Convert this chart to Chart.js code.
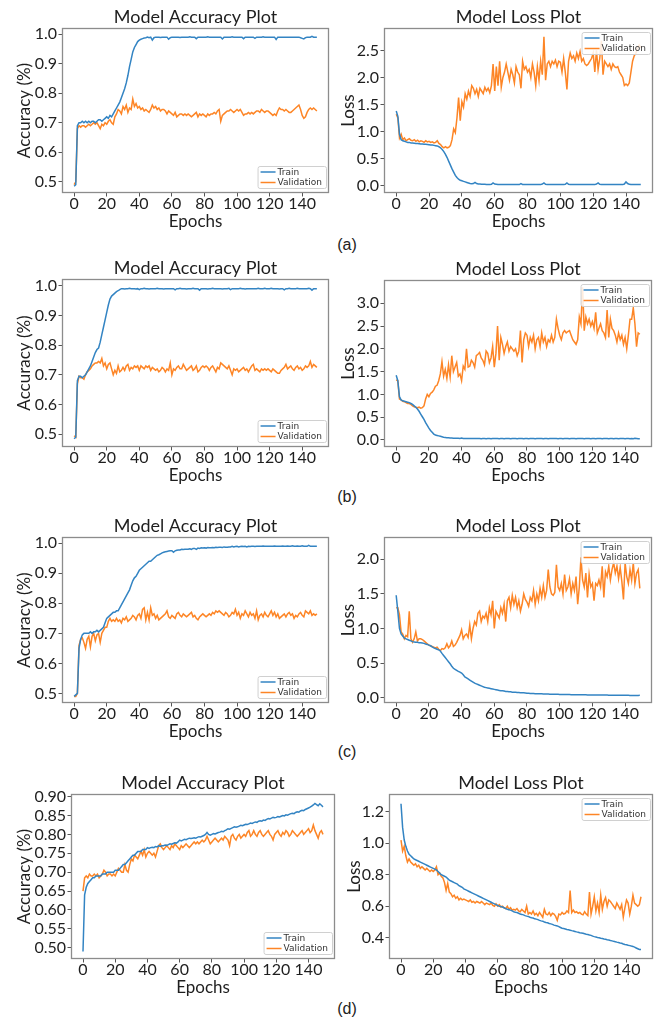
<!DOCTYPE html>
<html><head><meta charset="utf-8">
<script src="https://cdn.jsdelivr.net/npm/chart.js@4.4.1/dist/chart.umd.min.js"></script>
<style>
html,body{margin:0;padding:0;background:#fff}
body{width:657px;height:1020px;position:relative;overflow:hidden}
canvas{position:absolute}
.cap{position:absolute;width:40px;text-align:center;font:16px "Liberation Sans",Arial,sans-serif;color:#222;line-height:18px}
</style></head><body>
<div class="cap" style="left:327px;top:236px">(a)</div>
<div class="cap" style="left:327px;top:488px">(b)</div>
<div class="cap" style="left:327px;top:743px">(c)</div>
<div class="cap" style="left:327px;top:1000px">(d)</div>
<script>
// ---------- categories ----------
const epochs = Array.from({length:150},(_,i)=>i);
const xTickVals = [0,20,40,60,80,100,120,140];
const seriesNames = ['Train','Validation'];

// ---------- (a) ----------
const accTrainA = [
.485,.49,.69,.70,.70,.705,.70,.705,.70,.705,
.70,.705,.705,.70,.705,.71,.71,.705,.71,.715,
.72,.715,.725,.72,.73,.74,.75,.76,.77,.785,
.80,.815,.835,.86,.89,.915,.94,.955,.965,.975,
.98,.983,.985,.987,.988,.99,.988,.99,.98,.988,
.99,.99,.99,.989,.99,.99,.99,.99,.983,.988,
.99,.99,.99,.99,.99,.989,.99,.99,.99,.99,
.99,.991,.99,.99,.99,.985,.99,.99,.99,.99,
.99,.99,.991,.99,.99,.99,.99,.99,.99,.99,
.99,.984,.99,.99,.99,.99,.99,.991,.99,.99,
.99,.99,.99,.99,.985,.99,.99,.99,.99,.99,
.99,.986,.99,.99,.99,.99,.991,.99,.99,.99,
.99,.99,.99,.99,.982,.99,.99,.99,.99,.99,
.99,.99,.99,.99,.99,.99,.99,.99,.99,.988,
.986,.984,.988,.99,.99,.99,.993,.99,.99,.99];
const accValA = [
.49,.50,.68,.69,.685,.69,.69,.685,.69,.695,
.69,.695,.70,.695,.70,.69,.68,.695,.69,.70,
.695,.705,.71,.70,.695,.72,.73,.745,.74,.73,
.755,.745,.76,.735,.75,.745,.78,.755,.765,.75,
.755,.745,.75,.74,.745,.74,.735,.745,.76,.75,
.755,.745,.75,.74,.745,.745,.74,.73,.74,.735,
.73,.725,.735,.72,.725,.73,.73,.725,.73,.725,
.73,.725,.72,.725,.73,.735,.72,.73,.725,.73,
.725,.72,.73,.725,.73,.73,.735,.73,.74,.745,
.705,.725,.73,.735,.74,.74,.745,.74,.735,.74,
.745,.74,.745,.735,.725,.73,.73,.735,.73,.735,
.73,.735,.74,.74,.735,.745,.74,.735,.74,.74,
.735,.73,.725,.73,.725,.74,.75,.745,.745,.74,
.745,.74,.735,.735,.74,.745,.75,.755,.76,.745,
.725,.715,.72,.735,.745,.75,.745,.75,.745,.74];
const lossTrainA = [
1.38,1.28,.95,.85,.83,.82,.81,.80,.80,.79,
.79,.785,.78,.78,.775,.77,.77,.765,.765,.76,
.755,.75,.75,.745,.74,.735,.72,.70,.67,.63,
.58,.52,.45,.38,.31,.25,.19,.15,.12,.10,
.09,.08,.07,.06,.05,.04,.035,.04,.06,.04,
.03,.03,.025,.025,.025,.02,.02,.02,.025,.05,
.03,.025,.02,.02,.02,.02,.02,.02,.02,.02,
.02,.02,.02,.02,.02,.02,.04,.02,.02,.02,
.02,.02,.02,.02,.02,.02,.02,.02,.02,.03,
.05,.025,.02,.02,.02,.02,.02,.02,.02,.02,
.02,.02,.02,.025,.05,.025,.02,.02,.02,.02,
.02,.02,.02,.02,.02,.02,.02,.02,.02,.02,
.02,.02,.03,.05,.025,.02,.02,.02,.02,.02,
.02,.02,.02,.02,.02,.02,.02,.02,.02,.03,
.07,.04,.025,.02,.02,.02,.02,.02,.02,.02];
const lossValA = [
1.32,1.25,.88,.95,.85,.88,.83,.85,.87,.84,
.83,.85,.82,.84,.81,.83,.82,.80,.83,.81,
.82,.80,.81,.79,.80,.83,.78,.76,.72,.70,
.72,.70,.71,.74,.85,1.05,.98,1.25,1.63,1.20,
1.55,1.45,1.70,1.60,1.75,1.65,1.85,1.80,1.70,1.78,
1.65,1.80,1.75,1.70,1.82,1.75,1.80,1.72,1.85,2.25,
1.75,2.20,1.85,2.30,1.82,2.00,2.10,2.25,2.10,1.95,
2.15,2.05,1.90,2.20,2.10,2.05,1.80,2.30,2.15,2.20,
2.10,2.15,2.00,2.25,2.10,1.85,2.20,1.95,2.30,2.05,
2.75,1.95,2.25,2.30,2.20,2.30,2.25,2.32,2.20,2.30,
2.28,2.10,2.35,2.10,1.78,2.30,2.45,2.35,2.40,2.30,
2.45,2.35,2.48,2.30,2.35,2.25,2.22,2.25,2.30,2.35,
2.45,2.10,2.50,2.15,2.35,2.68,2.05,2.30,2.25,2.20,
2.25,2.15,2.25,2.20,2.18,2.20,2.10,2.05,2.00,1.85,
1.88,1.85,1.90,2.10,2.30,2.40,2.45,2.55,2.60,2.55];

// ---------- (b) ----------
const accTrainB = [
.485,.49,.68,.695,.695,.69,.695,.70,.71,.72,
.73,.745,.76,.775,.785,.79,.81,.835,.86,.885,
.91,.935,.955,.965,.97,.975,.98,.983,.987,.99,
.99,.989,.99,.99,.991,.99,.99,.99,.989,.99,
.987,.99,.99,.991,.99,.99,.989,.99,.99,.99,
.99,.991,.99,.99,.99,.989,.99,.99,.99,.99,
.99,.99,.986,.99,.99,.991,.99,.99,.99,.989,
.99,.99,.99,.991,.99,.99,.99,.985,.99,.99,
.99,.99,.989,.99,.99,.991,.99,.99,.99,.99,
.99,.989,.99,.99,.99,.991,.987,.99,.99,.99,
.99,.99,.991,.99,.99,.989,.99,.99,.99,.99,
.99,.99,.99,.991,.99,.99,.99,.991,.99,.99,
.99,.991,.99,.99,.99,.99,.989,.99,.99,.986,
.99,.99,.991,.99,.99,.99,.99,.991,.99,.99,
.99,.99,.99,.99,.991,.99,.985,.99,.99,.99];
const accValB = [
.495,.49,.67,.695,.69,.69,.685,.70,.71,.715,
.72,.73,.735,.74,.74,.745,.74,.755,.73,.74,
.72,.735,.74,.72,.70,.715,.705,.73,.71,.715,
.725,.715,.73,.735,.715,.725,.72,.73,.725,.73,
.715,.73,.725,.72,.73,.725,.73,.715,.725,.72,
.715,.72,.71,.715,.725,.72,.71,.72,.715,.74,
.70,.72,.715,.725,.73,.72,.72,.735,.725,.715,
.72,.725,.73,.715,.72,.73,.71,.715,.725,.73,
.725,.73,.725,.715,.725,.73,.72,.71,.725,.72,
.74,.735,.73,.725,.72,.73,.715,.70,.72,.715,
.72,.71,.715,.72,.725,.715,.72,.71,.72,.73,
.735,.715,.72,.715,.71,.72,.715,.72,.715,.72,
.715,.71,.72,.715,.71,.705,.705,.715,.72,.725,
.735,.72,.725,.73,.72,.715,.725,.73,.72,.725,
.715,.72,.73,.725,.73,.745,.725,.735,.73,.725];
const lossTrainB = [
1.42,1.30,.95,.88,.86,.85,.84,.83,.82,.80,
.78,.75,.72,.68,.63,.57,.51,.45,.38,.32,
.26,.21,.17,.13,.11,.10,.09,.08,.07,.06,
.055,.05,.05,.045,.045,.04,.04,.04,.04,.035,
.045,.035,.035,.03,.03,.03,.03,.03,.03,.03,
.03,.03,.025,.03,.03,.025,.03,.03,.025,.03,
.035,.03,.03,.025,.03,.03,.025,.03,.03,.03,
.025,.03,.03,.03,.025,.03,.035,.03,.025,.03,
.03,.025,.03,.03,.03,.025,.03,.03,.035,.03,
.025,.03,.03,.025,.03,.03,.035,.03,.03,.025,
.03,.03,.025,.03,.03,.03,.025,.03,.03,.03,
.025,.03,.035,.03,.03,.025,.03,.03,.03,.025,
.03,.03,.025,.03,.03,.03,.025,.03,.035,.03,
.025,.03,.03,.025,.03,.03,.025,.03,.03,.03,
.025,.03,.03,.025,.03,.025,.035,.03,.025,.025];
const lossValB = [
1.32,1.30,.90,.88,.85,.84,.82,.80,.80,.78,
.75,.73,.72,.71,.72,.70,.71,.75,.90,1.00,
.95,1.02,1.05,1.10,1.18,1.20,1.30,1.45,1.72,1.40,
1.55,1.35,1.65,1.38,1.85,1.50,1.60,1.70,1.40,1.45,
1.30,1.62,1.55,2.00,1.60,1.62,1.75,1.70,1.60,1.85,
1.88,1.92,1.80,1.75,1.65,1.95,1.90,1.70,1.80,2.05,
1.60,1.90,2.50,1.75,2.25,2.10,1.90,2.05,2.15,1.95,
2.05,2.00,1.95,2.00,1.85,1.95,2.40,1.70,2.20,2.35,
2.30,2.05,2.25,2.15,2.30,2.00,2.20,2.25,2.05,2.35,
2.15,2.25,2.05,2.20,2.15,2.30,2.15,2.25,2.65,2.45,
2.30,2.20,2.35,2.40,2.35,2.38,2.40,2.30,2.20,2.15,
2.10,2.20,2.70,2.55,3.35,2.40,2.70,2.55,2.65,2.50,
2.60,2.45,2.80,2.35,2.45,2.55,2.40,2.35,2.25,2.85,
2.25,2.65,2.45,2.40,2.30,2.15,2.35,2.20,2.30,2.10,
2.25,2.00,2.30,2.65,2.65,2.90,2.55,2.05,2.35,2.32];

// ---------- (c) ----------
const accTrainC = [
.49,.495,.50,.65,.68,.695,.70,.70,.70,.70,
.705,.70,.705,.705,.71,.705,.71,.715,.72,.735,
.75,.755,.76,.765,.77,.77,.775,.775,.785,.795,
.805,.815,.825,.835,.845,.86,.875,.885,.89,.90,
.91,.915,.92,.925,.93,.935,.94,.94,.945,.95,
.955,.96,.962,.965,.968,.97,.972,.973,.974,.975,
.975,.97,.975,.977,.978,.978,.98,.979,.98,.98,
.98,.982,.98,.983,.983,.98,.984,.983,.985,.984,
.985,.984,.986,.985,.985,.986,.985,.987,.986,.987,
.987,.986,.988,.987,.987,.988,.988,.99,.988,.989,
.99,.988,.989,.99,.989,.99,.988,.99,.989,.99,
.99,.989,.99,.99,.99,.99,.991,.99,.99,.99,
.99,.99,.99,.991,.99,.99,.99,.99,.991,.99,
.99,.991,.99,.99,.992,.99,.99,.991,.99,.99,
.992,.99,.99,.99,.993,.99,.99,.99,.99,.99];
const accValC = [
.49,.49,.50,.66,.68,.685,.67,.65,.68,.69,
.655,.69,.70,.675,.695,.70,.67,.70,.71,.72,
.72,.74,.75,.74,.745,.74,.75,.74,.745,.735,
.75,.745,.755,.74,.745,.75,.76,.755,.745,.76,
.765,.75,.78,.785,.745,.77,.745,.785,.76,.765,
.75,.76,.745,.75,.755,.76,.765,.775,.755,.75,
.76,.755,.75,.765,.77,.76,.755,.765,.76,.755,
.76,.765,.77,.755,.76,.75,.745,.755,.76,.765,
.76,.755,.76,.765,.76,.77,.765,.775,.77,.775,
.77,.765,.76,.77,.765,.755,.76,.77,.765,.78,
.76,.77,.75,.765,.76,.775,.765,.755,.77,.76,
.765,.75,.775,.745,.76,.765,.755,.77,.76,.755,
.765,.775,.76,.77,.755,.765,.75,.755,.76,.765,
.755,.765,.77,.76,.765,.75,.76,.755,.765,.77,
.76,.755,.775,.77,.765,.775,.76,.765,.76,.765];
const lossTrainC = [
1.48,1.25,1.00,.92,.89,.86,.85,.84,.83,.82,
.81,.805,.80,.80,.795,.795,.79,.785,.775,.77,
.76,.75,.735,.72,.71,.70,.69,.675,.64,.61,
.58,.55,.52,.49,.455,.425,.41,.395,.38,.37,
.355,.33,.30,.285,.27,.255,.24,.225,.21,.20,
.19,.18,.17,.16,.15,.145,.14,.135,.13,.125,
.12,.115,.11,.105,.10,.10,.095,.09,.09,.085,
.085,.08,.08,.078,.075,.075,.072,.07,.07,.068,
.065,.065,.062,.06,.06,.058,.058,.056,.055,.055,
.054,.053,.052,.052,.05,.05,.05,.049,.048,.048,
.047,.047,.046,.046,.045,.045,.045,.044,.044,.043,
.043,.043,.042,.042,.042,.041,.041,.04,.04,.04,
.04,.04,.039,.039,.038,.038,.038,.037,.037,.037,
.036,.036,.036,.036,.035,.035,.035,.035,.035,.034,
.034,.034,.034,.033,.033,.033,.032,.032,.033,.035];
const lossValC = [
1.30,1.30,1.20,.95,.92,.85,.90,.88,1.25,.85,
.80,.85,.95,.82,.85,.85,.84,.82,.80,.78,
.76,.75,.74,.73,.72,.73,.70,.68,.71,.70,
.72,.78,.72,.75,.82,.74,.76,.80,.85,.90,
.98,.85,.90,.92,.87,1.05,.85,1.00,1.10,1.05,
1.22,1.25,1.10,1.18,1.15,1.22,1.10,1.30,1.20,1.40,
1.00,1.25,1.20,1.15,1.30,1.22,1.35,1.10,1.40,1.45,
1.30,1.48,1.35,1.45,1.30,1.40,1.25,1.35,1.50,1.42,
1.38,1.32,1.45,1.40,1.55,1.35,1.50,1.40,1.58,1.45,
1.62,1.45,1.55,1.85,1.60,1.50,1.48,1.52,1.92,1.60,
1.55,1.65,1.50,1.78,1.55,1.60,1.72,1.50,1.65,1.55,
1.75,1.35,1.60,2.03,1.70,1.60,1.80,1.45,1.78,1.60,
1.65,1.40,1.65,1.62,1.70,1.60,1.90,1.45,1.82,1.75,
1.90,1.70,1.85,1.95,1.80,1.90,1.72,1.88,1.68,1.42,
1.95,1.75,1.65,1.85,1.70,1.95,1.65,1.80,1.85,1.58];

// ---------- (d) ----------
const accTrainD = [
.49,.64,.66,.67,.675,.68,.685,.685,.69,.69,
.69,.69,.695,.695,.695,.70,.70,.70,.70,.70,
.705,.705,.705,.71,.715,.72,.72,.725,.73,.735,
.74,.745,.745,.75,.755,.755,.755,.76,.76,.76,
.765,.763,.765,.766,.765,.768,.767,.77,.768,.77,
.77,.772,.771,.773,.775,.774,.776,.778,.777,.78,
.785,.783,.785,.787,.786,.788,.79,.789,.79,.791,
.79,.792,.794,.793,.795,.797,.80,.805,.80,.798,
.80,.802,.801,.803,.805,.806,.808,.807,.81,.812,
.815,.814,.816,.818,.82,.819,.82,.822,.824,.823,
.825,.827,.826,.828,.83,.829,.831,.833,.832,.835,
.836,.835,.838,.837,.84,.842,.841,.843,.845,.844,
.845,.847,.846,.848,.85,.849,.852,.851,.853,.855,
.856,.855,.858,.86,.859,.862,.864,.863,.866,.868,
.87,.872,.875,.878,.882,.879,.876,.881,.877,.873];
const accValD = [
.65,.685,.69,.685,.695,.69,.69,.695,.69,.695,
.685,.69,.695,.705,.70,.69,.695,.695,.69,.695,
.69,.70,.71,.705,.70,.70,.72,.705,.70,.72,
.735,.73,.745,.74,.735,.745,.755,.745,.76,.74,
.75,.755,.75,.745,.75,.74,.755,.77,.775,.765,
.76,.765,.77,.765,.76,.77,.765,.775,.77,.765,
.76,.77,.765,.77,.775,.77,.765,.77,.775,.78,
.775,.78,.775,.78,.785,.78,.785,.795,.785,.775,
.78,.785,.79,.785,.78,.785,.79,.785,.795,.79,
.785,.77,.795,.80,.79,.785,.795,.80,.79,.795,
.80,.795,.805,.81,.795,.80,.81,.80,.795,.805,
.81,.80,.795,.80,.805,.81,.80,.795,.785,.80,
.805,.81,.80,.795,.805,.80,.81,.805,.795,.80,
.81,.805,.80,.795,.80,.805,.81,.80,.805,.81,
.815,.805,.81,.825,.81,.80,.79,.805,.81,.80];
const lossTrainD = [
1.25,1.10,1.02,.98,.95,.93,.92,.91,.90,.895,
.89,.885,.88,.875,.87,.865,.86,.855,.85,.845,
.84,.835,.83,.82,.81,.80,.795,.79,.785,.775,
.765,.76,.755,.75,.745,.74,.73,.725,.72,.71,
.705,.70,.695,.69,.685,.68,.675,.67,.665,.66,
.655,.65,.645,.64,.635,.63,.625,.62,.615,.61,
.605,.60,.598,.595,.59,.585,.58,.578,.575,.57,
.565,.562,.56,.555,.55,.548,.545,.54,.537,.535,
.53,.527,.525,.52,.518,.515,.51,.507,.505,.50,
.497,.495,.49,.488,.485,.48,.477,.475,.47,.465,
.46,.458,.455,.452,.45,.448,.445,.443,.44,.437,
.435,.432,.43,.428,.425,.422,.42,.417,.415,.41,
.407,.405,.402,.40,.397,.395,.392,.39,.387,.385,
.382,.38,.377,.375,.372,.37,.367,.365,.36,.357,
.355,.352,.35,.347,.345,.34,.335,.33,.325,.325];
const lossValD = [
1.02,.95,.98,.92,.88,.90,.88,.87,.86,.87,
.85,.86,.84,.85,.84,.83,.84,.83,.82,.83,
.82,.83,.85,.80,.81,.79,.78,.75,.70,.745,
.69,.68,.66,.67,.65,.66,.64,.65,.64,.645,
.64,.635,.63,.64,.625,.63,.62,.63,.625,.62,
.63,.62,.61,.62,.615,.61,.62,.605,.60,.615,
.60,.61,.595,.60,.59,.585,.60,.58,.59,.575,
.58,.575,.585,.57,.565,.58,.57,.56,.60,.55,
.56,.55,.57,.545,.555,.54,.56,.545,.53,.58,
.55,.545,.56,.54,.555,.55,.535,.51,.55,.545,
.56,.55,.555,.57,.56,.70,.56,.575,.56,.565,
.555,.56,.55,.545,.565,.55,.54,.69,.55,.60,
.66,.57,.62,.56,.67,.58,.63,.655,.60,.64,
.63,.615,.60,.585,.62,.60,.58,.61,.53,.59,
.64,.62,.55,.60,.67,.62,.61,.60,.61,.66];

// ---------- tick values ----------
const accTicks = [0.5,0.6,0.7,0.8,0.9,1.0];
const accTicksD = [0.50,0.55,0.60,0.65,0.70,0.75,0.80,0.85,0.90];
const lossTicksA = [0.0,0.5,1.0,1.5,2.0,2.5];
const lossTicksB = [0.0,0.5,1.0,1.5,2.0,2.5,3.0];
const lossTicksC = [0.0,0.5,1.0,1.5,2.0];
const lossTicksD = [0.4,0.6,0.8,1.0,1.2];

// ---------- styling / layout ----------
const BLUE = '#3384c3', ORANGE = '#fd8526';
const FONT = 'Lato, "Open Sans", sans-serif';
const TXT = '#1e1e1e';
const TITLE_SIZE = 18, AXIS_SIZE = 17, TICK_SIZE = 16;

const panels = [
 {L:62, T:28, R:329, B:193, ymin:0.462, ymax:1.021, ticks:accTicks, dec:1, ylab:'Accuracy (%)', ytx:25, title:'Model Accuracy Plot', legend:'lr', tr:accTrainA, va:accValA},
 {L:384,T:28, R:653, B:193, ymin:-0.135,ymax:2.914, ticks:lossTicksA, dec:1, ylab:'Loss', ytx:349, title:'Model Loss Plot', legend:'ur', tr:lossTrainA, va:lossValA},
 {L:62, T:279,R:329, B:447, ymin:0.457, ymax:1.0225,ticks:accTicks, dec:1, ylab:'Accuracy (%)', ytx:25, title:'Model Accuracy Plot', legend:'lr', tr:accTrainB, va:accValB},
 {L:384,T:280,R:652, B:447, ymin:-0.154,ymax:3.511, ticks:lossTicksB, dec:1, ylab:'Loss', ytx:349, title:'Model Loss Plot', legend:'ur', tr:lossTrainB, va:lossValB},
 {L:62, T:537,R:329, B:703, ymin:0.468, ymax:1.021, ticks:accTicks, dec:1, ylab:'Accuracy (%)', ytx:25, title:'Model Accuracy Plot', legend:'lr', tr:accTrainC, va:accValC},
 {L:384,T:537,R:652, B:703, ymin:-0.077,ymax:2.322, ticks:lossTicksC, dec:1, ylab:'Loss', ytx:349, title:'Model Loss Plot', legend:'ur', tr:lossTrainC, va:lossValC},
 {L:71, T:794,R:335, B:959, ymin:0.470, ymax:0.907, ticks:accTicksD, dec:2, ylab:'Accuracy (%)', ytx:25, title:'Model Accuracy Plot', legend:'lr', tr:accTrainD, va:accValD},
 {L:389,T:794,R:653, B:959, ymin:0.265, ymax:1.312, ticks:lossTicksD, dec:1, ylab:'Loss', ytx:355, title:'Model Loss Plot', legend:'ur', tr:lossTrainD, va:lossValD}
];

const YW = 80, TOPPAD = 30, XH = 42, RPAD = 8;
const lh = AXIS_SIZE * 1.2;

function makePanel(p){
  const cx = p.L - YW, cy = p.T - TOPPAD;
  const cw = p.R - cx + RPAD, ch = p.B - cy + XH;
  const c = document.createElement('canvas');
  c.width = cw; c.height = ch;
  c.style.left = cx + 'px'; c.style.top = cy + 'px';
  c.style.width = cw + 'px'; c.style.height = ch + 'px';
  document.body.appendChild(c);

  const deco = {
    id: 'deco',
    afterDatasetsDraw(chart){
      const ctx = chart.ctx, a = chart.chartArea;
      ctx.save();
      // frame
      ctx.strokeStyle = '#8c8c8c'; ctx.lineWidth = 1.3;
      ctx.strokeRect(Math.round(a.left)+0.5, Math.round(a.top)+0.5, Math.round(a.width)-1, Math.round(a.height)-1);
      // title
      ctx.fillStyle = TXT; ctx.font = TITLE_SIZE + 'px ' + FONT;
      ctx.textAlign = 'center'; ctx.textBaseline = 'middle';
      ctx.fillText(p.title, (a.left + a.right) / 2, a.top - 11);
      // legend
      ctx.font = '9px "DejaVu Sans", sans-serif';
      const tw = Math.max(...chart.data.datasets.map(d => ctx.measureText(d.label).width));
      const bw = 3 + 15 + 3 + tw + 3, bh = 22;
      const bx = a.right - 3 - bw;
      const by = p.legend === 'ur' ? a.top + 4 : a.bottom - 5 - bh;
      ctx.fillStyle = 'rgba(255,255,255,0.85)';
      ctx.strokeStyle = '#d0d0d0'; ctx.lineWidth = 1;
      ctx.beginPath(); ctx.roundRect(bx + 0.5, by + 0.5, bw, bh, 2); ctx.fill(); ctx.stroke();
      chart.data.datasets.forEach((d, i) => {
        const yy = by + 6 + i * 10.5;
        ctx.strokeStyle = d.borderColor; ctx.lineWidth = 1.5;
        ctx.beginPath(); ctx.moveTo(bx + 3, yy); ctx.lineTo(bx + 18, yy); ctx.stroke();
        ctx.fillStyle = '#333'; ctx.textAlign = 'left'; ctx.textBaseline = 'middle';
        ctx.fillText(d.label, bx + 20, yy + 0.5);
      });
      ctx.restore();
    }
  };

  new Chart(c, {
    type: 'line',
    data: {
      labels: epochs,
      datasets: [
        {label: seriesNames[0], data: p.tr, borderColor: BLUE, backgroundColor: BLUE, borderWidth: 1.5, pointRadius: 0, tension: 0, fill: false},
        {label: seriesNames[1], data: p.va, borderColor: ORANGE, backgroundColor: ORANGE, borderWidth: 1.5, pointRadius: 0, tension: 0, fill: false}
      ]
    },
    options: {
      responsive: false, animation: false, devicePixelRatio: 1,
      layout: {padding: {left: 0, top: TOPPAD, right: RPAD, bottom: 0}},
      plugins: {legend: {display: false}, title: {display: false}, tooltip: {enabled: false}},
      scales: {
        x: {
          type: 'linear', min: -7.45, max: 156.45,
          afterFit(s){ s.height = XH; },
          afterBuildTicks(s){ s.ticks = xTickVals.map(v => ({value: v})); },
          grid: {drawOnChartArea: false, drawTicks: true, tickLength: 3.5, color: '#555'},
          border: {display: false},
          ticks: {font: {family: FONT, size: TICK_SIZE}, color: TXT, padding: -2, maxRotation: 0, autoSkip: false, callback: v => String(v)},
          title: {display: true, text: 'Epochs', font: {family: FONT, size: AXIS_SIZE}, color: TXT, padding: {top: 0, bottom: XH - 29 - lh / 2}}
        },
        y: {
          min: p.ymin, max: p.ymax,
          afterFit(s){ s.width = YW; },
          afterBuildTicks(s){ s.ticks = p.ticks.map(v => ({value: v})); },
          grid: {drawOnChartArea: false, drawTicks: true, tickLength: 3.5, color: '#555'},
          border: {display: false},
          ticks: {font: {family: FONT, size: TICK_SIZE}, color: TXT, padding: 1.5, autoSkip: false, callback: v => Number(v).toFixed(p.dec)},
          title: {display: true, text: p.ylab, font: {family: FONT, size: AXIS_SIZE}, color: TXT, padding: {top: (p.ytx - cx) - lh / 2, bottom: 0}}
        }
      }
    },
    plugins: [deco]
  });
}
panels.forEach(makePanel);
</script>
</body></html>
